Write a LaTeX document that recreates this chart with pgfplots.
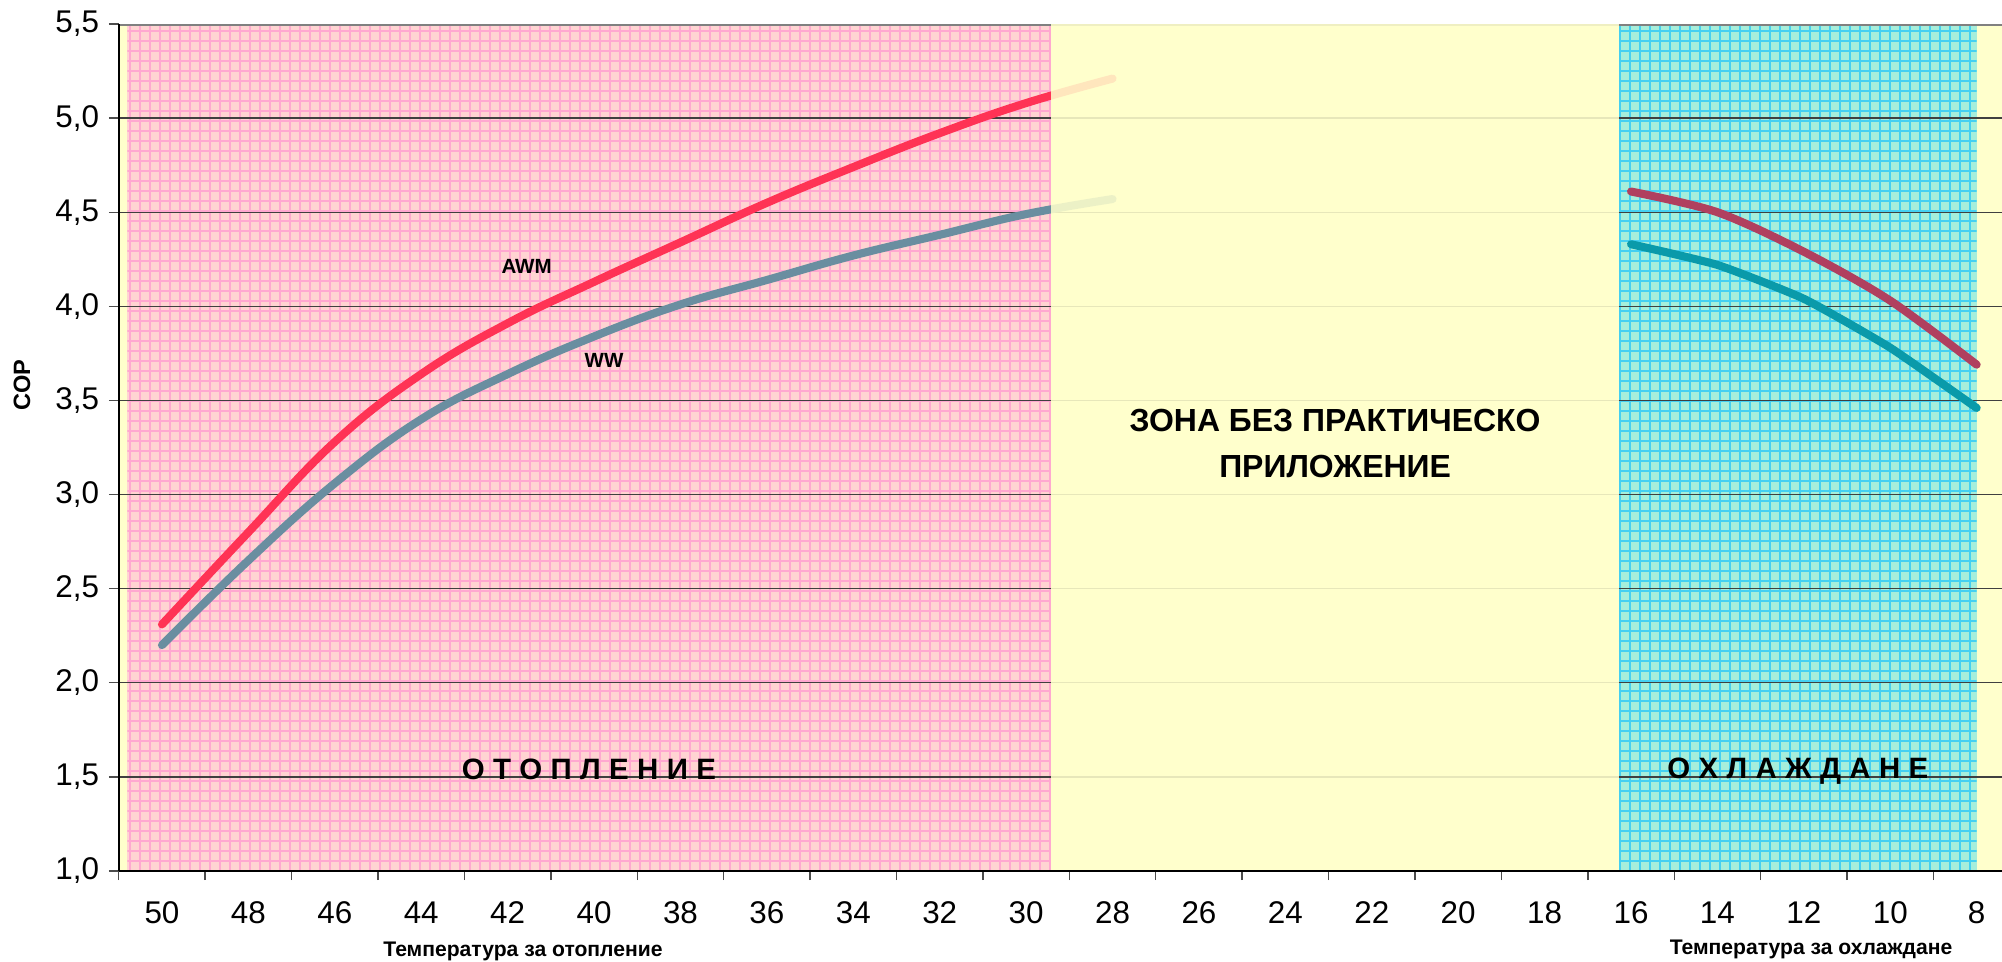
\documentclass[border=0pt]{standalone}
\usepackage{fontspec}
\setmainfont{Liberation Sans}
\usepackage{pgfplots}
\pgfplotsset{compat=1.18}
\usetikzlibrary{patterns.meta}
\definecolor{bgyellow}{HTML}{FFFFCC}
\definecolor{pinkbase}{HTML}{FFD4D2}
\definecolor{pinkline}{HTML}{FFA8D0}
\definecolor{cyanbase}{HTML}{A6EEDB}
\definecolor{cyanline}{HTML}{44D0F2}
\definecolor{awmred}{HTML}{FF3355}
\definecolor{wwslate}{HTML}{6A8EA0}
\definecolor{awmcool}{HTML}{B0405F}
\definecolor{wwteal}{HTML}{0A9AAA}
\definecolor{gridc}{HTML}{404040}
\newcommand\lsp{\hspace{3pt}}
\begin{document}
\begin{tikzpicture}
\begin{axis}[
  at={(0pt,0pt)}, anchor=south west,
  scale only axis, width=684.4pt, height=304.92pt,
  xmin=7, xmax=51, ymin=1, ymax=5.5,
  x dir=reverse,
  axis lines*=left,
  axis line style={black, line width=0.8pt},
  axis background/.style={fill=bgyellow},
  axis on top,
  xtick={50,48,...,8},
  minor xtick={51,49,...,9},
  major x tick style={draw=none},
  minor x tick style={gray!60!black, line width=0.5pt},
  minor tick length=3.3pt,
  ytick={1,1.5,...,5.5},
  y tick style={gray!60!black, line width=0.5pt},
  major tick length=3.6pt,
  tick align=outside,
  xticklabel style={font=\fontsize{11.3}{13}\selectfont, /pgf/number format/assume math mode=true, yshift=-4pt},
  yticklabel style={font=\fontsize{11.3}{13}\selectfont, /pgf/number format/.cd, fixed, fixed zerofill, precision=1, use comma, assume math mode=true},
]
% zones
\addplot[forget plot, draw=none, fill=pinkbase,
  postaction={pattern={Hatch[angle=0,distance=3.6pt,line width=0.55pt]}, pattern color=pinkline}]
  coordinates {(50.8,1) (50.8,5.5) (29.43,5.5) (29.43,1)} -- cycle;
\addplot[forget plot, draw=none, fill=cyanbase,
  postaction={pattern={Hatch[angle=0,distance=3.6pt,line width=0.55pt]}, pattern color=cyanline}]
  coordinates {(16.28,1) (16.28,5.5) (8,5.5) (8,1)} -- cycle;
% grid
\pgfplotsinvokeforeach{1.5,2,2.5,3,3.5,4,4.5,5}{\draw[gridc, line width=0.45pt] (axis cs:51,#1) -- (axis cs:7,#1);}
\draw[gray, line width=1.4pt] (axis cs:51,5.5) -- (axis cs:7,5.5);
% heating
\addplot[awmred, line width=2.9pt, smooth, tension=0.7, line cap=round] coordinates {
(50,2.31) (48,2.80) (46,3.28) (44,3.64) (42,3.91) (40,4.13) (38,4.34) (36,4.55) (34,4.74) (32,4.92) (30,5.08) (28,5.21)};
\addplot[wwslate, line width=2.9pt, smooth, tension=0.7, line cap=round] coordinates {
(50,2.20) (48,2.65) (46,3.06) (44,3.40) (42,3.64) (40,3.84) (38,4.01) (36,4.14) (34,4.27) (32,4.38) (30,4.49) (28,4.57)};
% cooling
\addplot[awmcool, line width=2.9pt, smooth, line cap=round] coordinates {
(16,4.61) (14,4.50) (12,4.29) (10,4.03) (8,3.69)};
\addplot[wwteal, line width=2.9pt, smooth, tension=0.3, line cap=round] coordinates {
(16,4.33) (14,4.22) (12,4.04) (10,3.78) (8,3.46)};
% overlay of middle zone
\addplot[forget plot, draw=none, fill=bgyellow, fill opacity=0.88]
  coordinates {(29.43,1) (29.43,5.5) (16.28,5.5) (16.28,1)} -- cycle;
% texts
\node[font=\bfseries\fontsize{7.4}{9}\selectfont] at (axis cs:41.56,4.21) {AWM};
\node[font=\bfseries\fontsize{7.4}{9}\selectfont] at (axis cs:39.77,3.71) {WW};
\node[font=\bfseries\fontsize{10.6}{12}\selectfont] at (axis cs:40.12,1.54) {О\lsp Т\lsp О\lsp П\lsp Л\lsp Е\lsp Н\lsp И\lsp Е};
\node[font=\bfseries\fontsize{10.6}{12}\selectfont] at (axis cs:12.14,1.53) {О\lsp Х\lsp Л\lsp А\lsp Ж\lsp Д\lsp А\lsp Н\lsp Е};
\node[align=center, font=\bfseries\fontsize{11.5}{16.6}\selectfont] at (axis cs:22.85,3.27) {ЗОНА БЕЗ ПРАКТИЧЕСКО\\ПРИЛОЖЕНИЕ};
\end{axis}
\node[font=\bfseries\fontsize{7.6}{9}\selectfont] at (145.5pt,-28.8pt) {Температура за отопление};
\node[font=\bfseries\fontsize{7.6}{9}\selectfont] at (609.2pt,-28.4pt) {Температура за охлаждане};
\node[rotate=90, font=\bfseries\fontsize{8.5}{10}\selectfont] at (-34.85pt,174.96pt) {COP};
\pgfresetboundingbox
\useasboundingbox (-42.77pt,-32.4pt) rectangle (677.95pt,313.56pt);
\end{tikzpicture}
\end{document}
